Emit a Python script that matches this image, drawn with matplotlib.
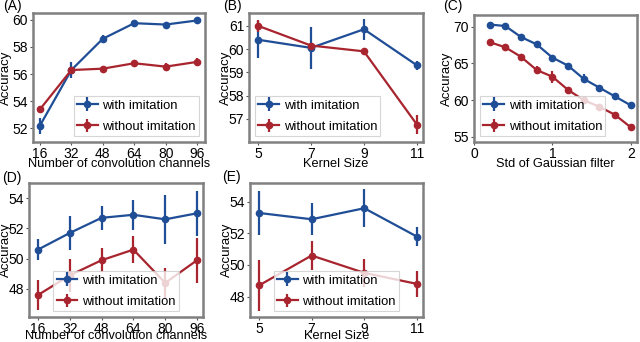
import matplotlib
matplotlib.use("Agg")
import matplotlib.pyplot as plt

plt.rcParams['font.family'] = ['Liberation Sans', 'DejaVu Sans']

BLUE = '#1f4e96'
RED = '#a8252f'
FRAME = '#808080'

# (A) number of convolution channels
chan = [16, 32, 48, 64, 80, 96]
a_with = [52.2, 56.3, 58.6, 59.75, 59.65, 59.95]
a_with_err = [0.6, 0.6, 0.3, 0.1, 0.1, 0.1]
a_wo = [53.4, 56.3, 56.4, 56.8, 56.55, 56.9]
a_wo_err = [0.2, 0.1, 0.1, 0.1, 0.3, 0.25]

# (B) kernel size
kern = [5, 7, 9, 11]
b_with = [60.4, 60.05, 60.85, 59.3]
b_with_err = [0.8, 0.9, 0.45, 0.2]
b_wo = [61.0, 60.15, 59.9, 56.75]
b_wo_err = [0.25, 0.1, 0.05, 0.4]

# (C) std of gaussian filter
std = [0.2, 0.4, 0.6, 0.8, 1.0, 1.2, 1.4, 1.6, 1.8, 2.0]
c_with = [70.3, 70.1, 68.6, 67.6, 65.8, 64.7, 62.9, 61.7, 60.5, 59.3]
c_with_err = [0.3, 0.4, 0.4, 0.2, 0.3, 0.3, 0.6, 0.2, 0.2, 0.4]
c_wo = [67.9, 67.2, 65.9, 64.1, 63.2, 61.4, 60.0, 59.1, 58.0, 56.3]
c_wo_err = [0.2, 0.2, 0.2, 0.5, 0.8, 0.2, 0.1, 0.3, 0.2, 0.4]

# (D) channels, second setting
d_with = [50.6, 51.7, 52.7, 52.9, 52.6, 53.0]
d_with_err = [0.7, 1.1, 0.8, 1.0, 1.6, 1.5]
d_wo = [47.6, 48.9, 49.9, 50.6, 48.4, 49.9]
d_wo_err = [1.0, 1.1, 0.8, 0.9, 1.0, 1.5]

# (E) kernel size, second setting
e_with = [53.3, 52.9, 53.6, 51.8]
e_with_err = [1.4, 1.0, 1.2, 0.6]
e_wo = [48.7, 50.6, 49.5, 48.8]
e_wo_err = [1.6, 0.9, 0.9, 0.8]

W, H = 640, 342
fig = plt.figure(figsize=(6.4, 3.42), dpi=100)


def box(l, t, r, b):
    return [l / W, (H - b) / H, (r - l) / W, (b - t) / H]


def panel(rect, x, yw, ew, yo, eo, xlabel, xlim, ylim, yticks, xticks,
          loc, tag, tagpos, yl_x, xl_y):
    ax = fig.add_axes(box(*rect))
    wpx = rect[2] - rect[0]
    hpx = rect[3] - rect[1]
    ax.errorbar(x, yw, yerr=ew, color=BLUE, lw=1.6, marker='o', ms=4.5,
                elinewidth=1.6, capsize=0, label='with imitation')
    ax.errorbar(x, yo, yerr=eo, color=RED, lw=1.6, marker='o', ms=4.5,
                elinewidth=1.6, capsize=0, label='without imitation')
    ax.set_xlim(*xlim)
    ax.set_ylim(*ylim)
    ax.set_yticks(yticks)
    ax.set_xticks(xticks)
    ax.tick_params(length=2.5, width=0.8, color='#555555', labelsize=10, pad=1)
    ax.set_xlabel(xlabel, fontsize=9.2)
    ax.set_ylabel('Accuracy', fontsize=9.5)
    ax.xaxis.set_label_coords(0.5, -(xl_y - rect[3]) / hpx)
    ax.xaxis.label.set_va('center')
    ax.yaxis.set_label_coords((yl_x - rect[0]) / wpx, 0.5)
    ax.yaxis.label.set_rotation_mode('default')
    ax.yaxis.label.set_va('center')
    ax.yaxis.label.set_ha('center')
    for s in ax.spines.values():
        s.set_color(FRAME)
        s.set_linewidth(1.8)
    leg = ax.legend(loc=loc, fontsize=9.4, framealpha=0.8, handlelength=1.6,
                    borderpad=0.25, labelspacing=0.7, handletextpad=0.35,
                    borderaxespad=0.45, fancybox=False)
    leg.get_frame().set_edgecolor('#cccccc')
    leg.get_frame().set_linewidth(0.8)
    fig.text(tagpos[0] / W, 1 - tagpos[1] / H, tag, fontsize=10, va='center', ha='left')
    return ax


panel((33, 13, 205, 142), chan, a_with, a_with_err, a_wo, a_wo_err,
      'Number of convolution channels', (12.5, 100), (51, 60.5),
      [52, 54, 56, 58, 60], chan, 'lower right', '(A)', (3, 6), 6, 164)
panel((249, 13, 423, 142), kern, b_with, b_with_err, b_wo, b_wo_err,
      'Kernel Size', (4.66, 11.23), (56, 61.55),
      [57, 58, 59, 60, 61], kern, 'lower left', '(B)', (223, 6), 226, 164)
panel((474, 15, 637, 142), std, c_with, c_with_err, c_wo, c_wo_err,
      'Std of Gaussian filter', (0, 2.08), (54.3, 71.6),
      [55, 60, 65, 70], [0, 1, 2], 'lower left', '(C)', (443, 6), 447, 164)
panel((29, 183, 203, 317), chan, d_with, d_with_err, d_wo, d_wo_err,
      'Number of convolution channels', (11.5, 99), (46.15, 55),
      [48, 50, 52, 54], chan, 'lower center', '(D)', (2, 178), 6, 336)
panel((250, 183, 423, 317), kern, e_with, e_with_err, e_wo, e_wo_err,
      'Kernel Size', (4.66, 11.23), (46.7, 55.2),
      [48, 50, 52, 54], kern, 'lower center', '(E)', (222, 177), 227, 336)

fig.savefig('out.png', dpi=100)
